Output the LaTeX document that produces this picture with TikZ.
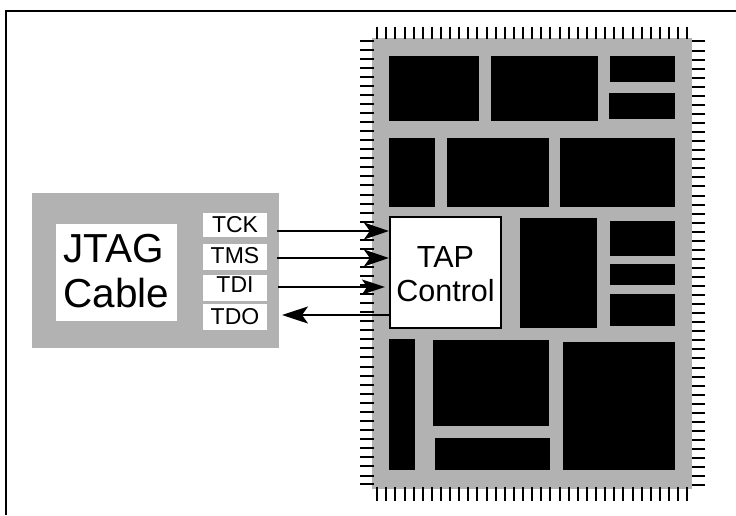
\documentclass[tikz,border=0pt]{standalone}
\usepackage{fontspec}
\setmainfont{Liberation Sans}
\usetikzlibrary{arrows.meta}
\definecolor{chipgray}{HTML}{B2B2B2}
\tikzset{
  frameline/.style={draw=black,line width=2.3pt},
  chipbody/.style={fill=chipgray},
  block/.style={fill=black},
  pinline/.style={draw=black,line width=2pt},
  signal/.style={draw=black,line width=1.8pt,-{Stealth[length=25pt,width=17pt,inset=6pt]}},
  whitebox/.style={fill=white,inner sep=0pt,align=center},
  siglabel/.style={whitebox,minimum width=64pt,font=\fontsize{23}{25}\selectfont},
}
\newcommand{\blk}[4]{\path[block] (#1,#2) rectangle (#3,#4);}
\begin{document}
\begin{tikzpicture}[x=1pt,y=-1pt]
\useasboundingbox (0,0) rectangle (736,515);
% outer frame
\coordinate (fbl) at (6,515);
\coordinate (ftl) at (6,11);
\coordinate (ftr) at (736,11);
\draw[frameline] (fbl) -- (ftl) -- (ftr);
% chip
\path[chipbody] (372,38) rectangle (692,489);
\foreach \i in {0,...,34}{
  \pgfmathsetmacro{\px}{377+9*\i+(\i>=3)+(\i>=12)+(\i>=20)+(\i>=28)}
  \draw[pinline] (\px,26.7) -- (\px,39);
  \draw[pinline] (\px,487.3) -- (\px,501);
}
\foreach \i in {0,...,49}{
  \pgfmathsetmacro{\py}{41+9*\i+(\i>=17)+(\i>=36)+(\i==48)}
  \pgfmathsetmacro{\qy}{41+9*\i+(\i>=1)+(\i>=17)+(\i>=36)}
  \draw[pinline] (360,\py) -- (374,\py);
  \draw[pinline] (692,\qy) -- (705,\qy);
}
% blocks
\blk{389}{56}{479}{121}
\blk{491}{56}{598}{121}
\blk{610}{56}{675}{82}
\blk{609}{93}{675}{119}
\blk{389}{138}{435}{207}
\blk{447}{138}{549}{207}
\blk{560}{138}{675}{207}
\blk{520}{218}{597}{328}
\blk{610}{221}{675}{256}
\blk{610}{264}{675}{285}
\blk{610}{294}{675}{326}
\blk{389}{339}{415}{470}
\blk{433}{340}{549}{426}
\blk{435}{438}{550}{470}
\blk{563}{342}{675}{470}
% TAP
\node[whitebox,draw=black,line width=2.3pt,minimum width=111pt,minimum height=111pt,
      font=\fontsize{30.5}{34}\selectfont] (tap) at (445.5,272.5) {\rule{0pt}{25pt}TAP\\Control};
% cable
\path[chipbody] (32,193) rectangle (279,348);
\node[whitebox,minimum width=121pt,minimum height=97pt,text depth=2pt,
      font=\fontsize{40.5}{45}\selectfont] (jtag) at (116.5,272) {JTAG\kern6pt\\Cable};
\node[siglabel,minimum height=24pt,text depth=2pt] (tck) at (235,225) {TCK};
\node[siglabel,minimum height=26pt,text depth=4pt] (tms) at (235,257) {TMS};
\node[siglabel,minimum height=26pt,text depth=6pt] (tdi) at (235,288) {TDI};
\node[siglabel,minimum height=26pt,text depth=2pt] (tdo) at (235,317) {TDO};
% signals
\coordinate (tckout) at (277,231);
\coordinate (tmsout) at (277,258);
\coordinate (tdiout) at (278,287);
\coordinate (tdiend) at (385,287);
\coordinate (tdoend) at (282,315);
\draw[signal] (tckout) -- (tckout -| tap.west);
\draw[signal] (tmsout) -- (tmsout -| tap.west);
\draw[signal,-{Stealth[length=23pt,width=15pt,inset=5pt]}] (tdiout) -- (tdiend);
\draw[signal,-{Stealth[length=26pt,width=17pt,inset=6pt]}] (tdoend -| tap.west) -- (tdoend);
\end{tikzpicture}
\end{document}
